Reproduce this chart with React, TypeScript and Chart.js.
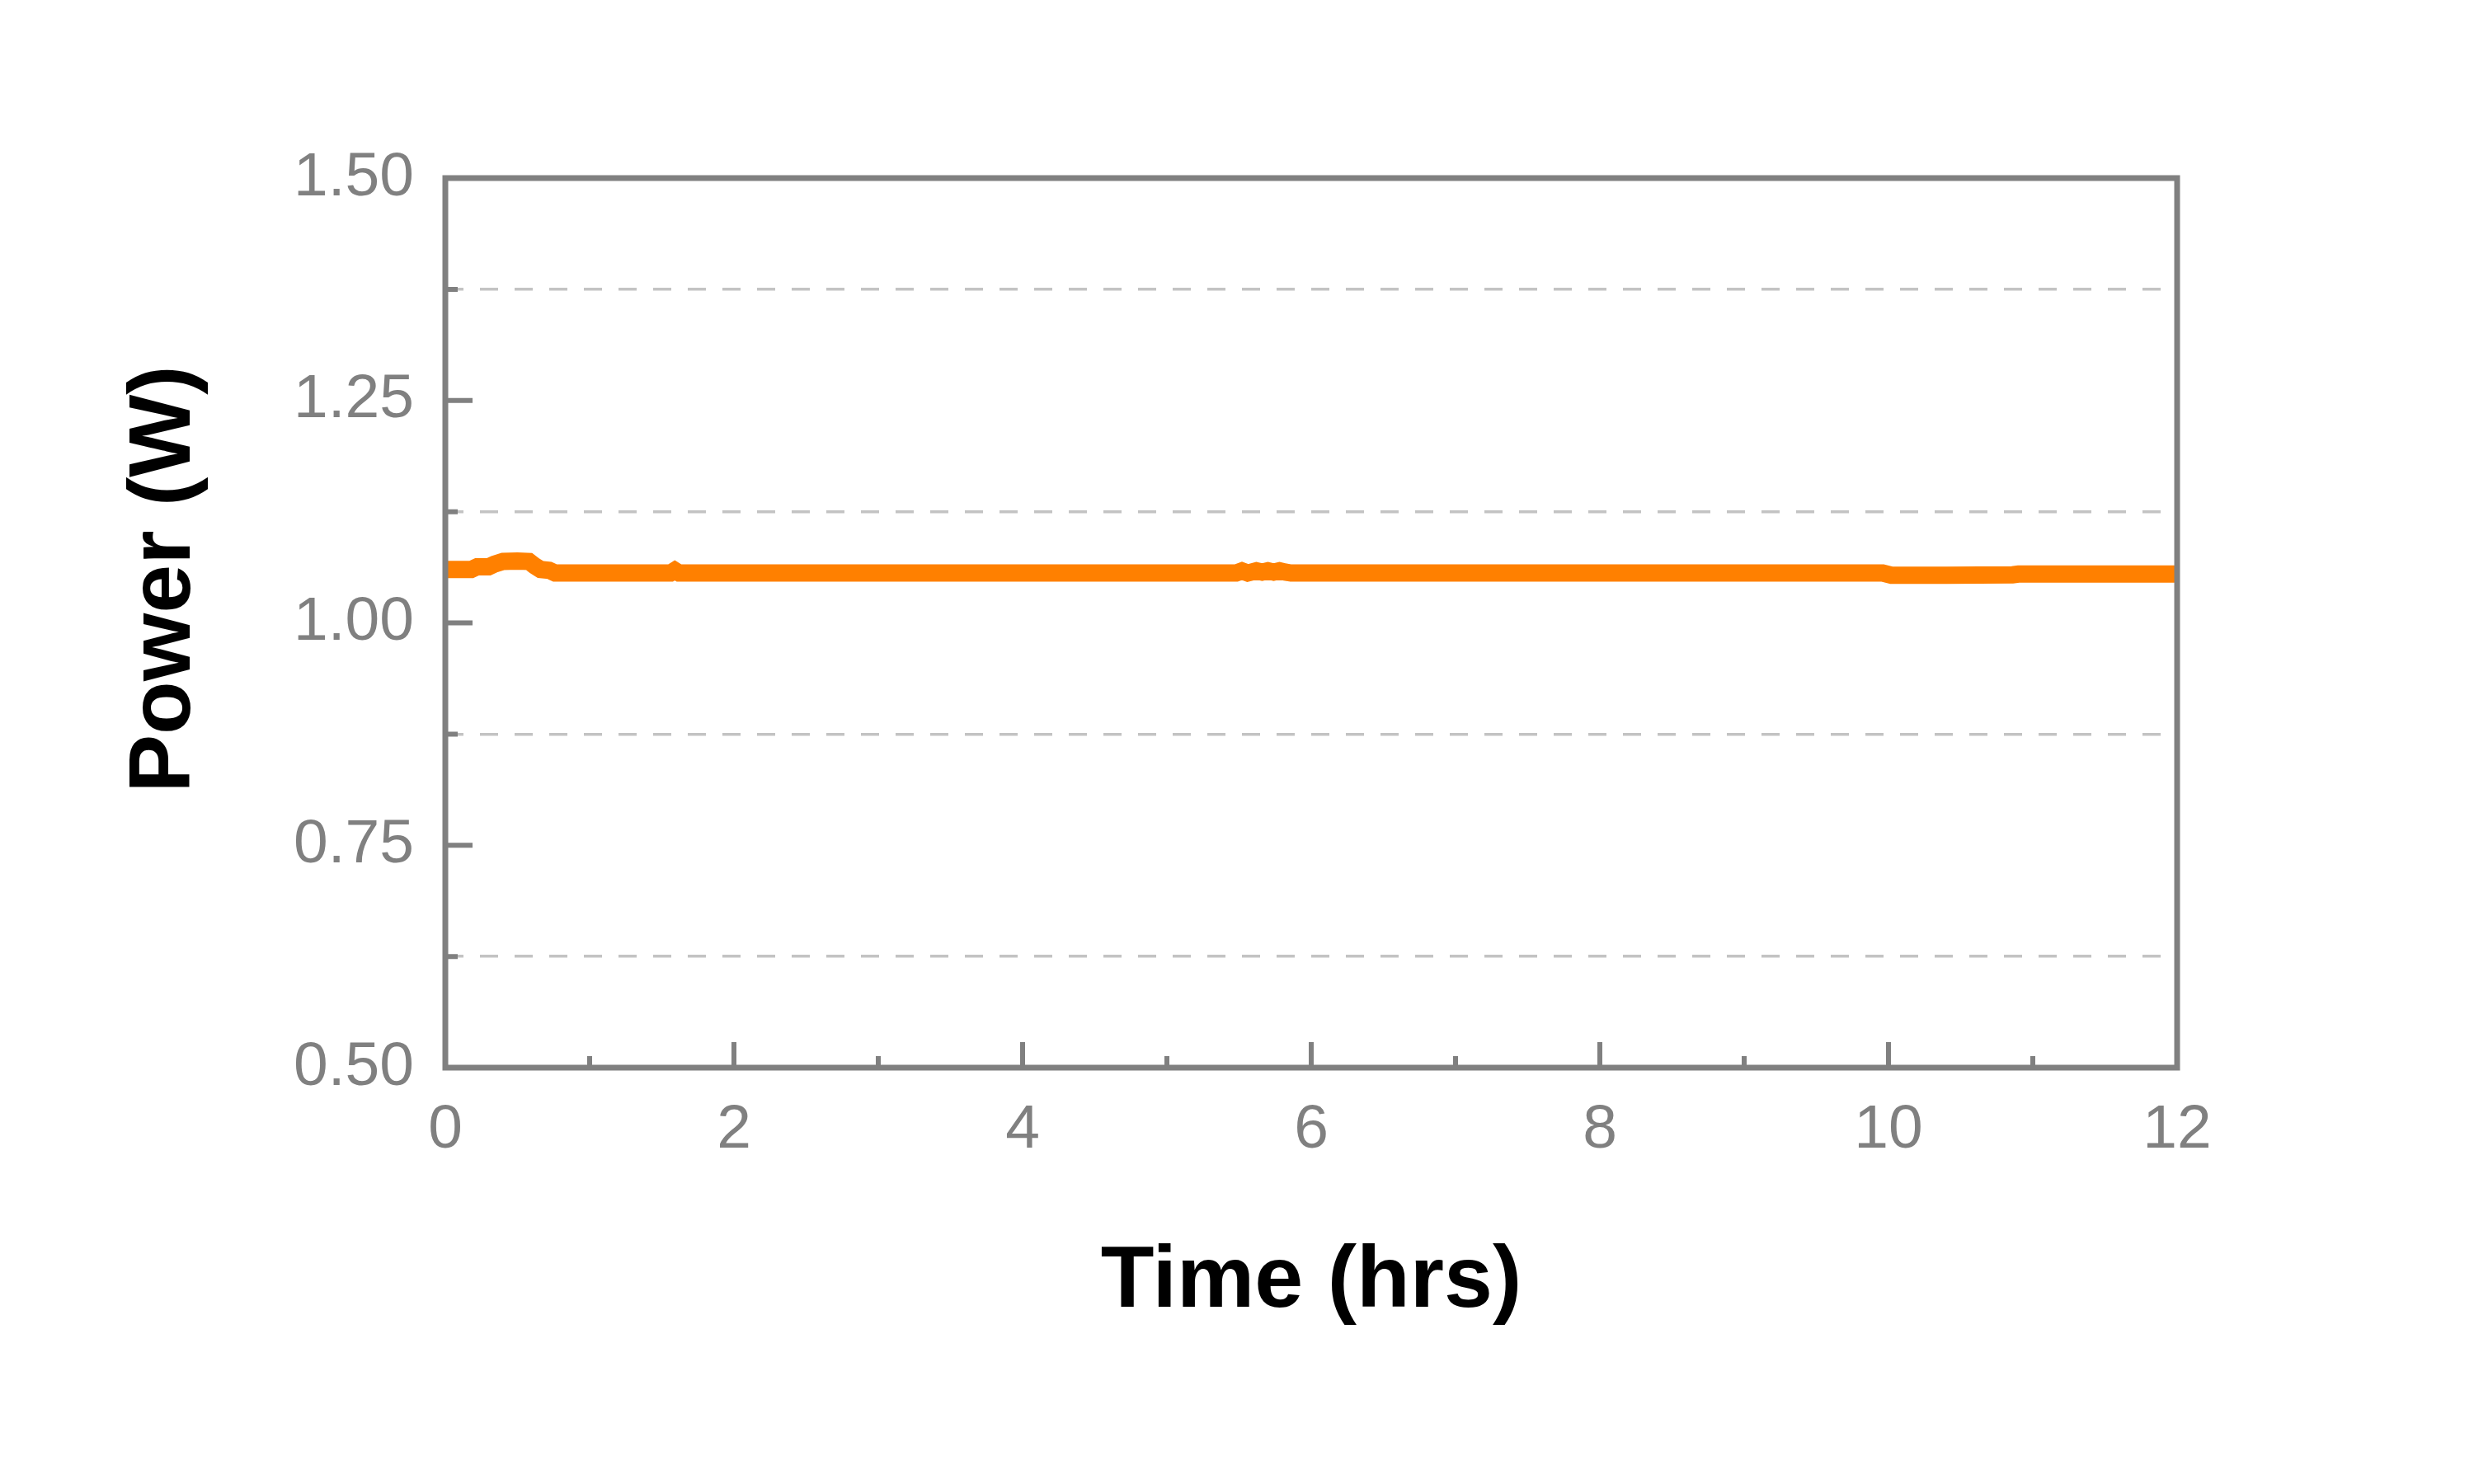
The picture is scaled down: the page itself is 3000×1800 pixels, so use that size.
import React, { useEffect, useRef } from 'react';
import { Chart, registerables } from 'chart.js';

Chart.register(...registerables);

// ---- data ----
const timeHrs = [
  0, 0.1, 0.18, 0.22, 0.3, 0.34, 0.4, 0.5, 0.58, 0.62, 0.66, 0.72, 0.76, 1.0, 1.5,
  1.56, 1.59, 1.62, 1.66, 2, 3, 4, 5, 5.48, 5.52, 5.56, 5.62, 5.66, 5.7, 5.74,
  5.78, 5.82, 5.86, 6, 7, 8, 9, 9.96, 10.02, 10.4, 10.86, 10.9, 11.3, 11.7, 12,
];
const powerW = [
  1.06, 1.06, 1.06, 1.063, 1.063, 1.066, 1.069, 1.0695, 1.069, 1.064, 1.06, 1.059, 1.056, 1.056, 1.056,
  1.056, 1.059, 1.056, 1.056, 1.056, 1.056, 1.056, 1.056, 1.056, 1.0585, 1.056, 1.0585, 1.057, 1.0585, 1.057,
  1.0585, 1.057, 1.056, 1.056, 1.056, 1.056, 1.056, 1.056, 1.0535, 1.0535, 1.054, 1.0548, 1.0548, 1.0548, 1.0548,
];
const yMajorTicks = [0.5, 0.75, 1.0, 1.25, 1.5];
const xTickLabels = [0, 2, 4, 6, 8, 10, 12];
const xTitle = 'Time (hrs)';
const yTitle = 'Power (W)';

const AXIS_COLOR = '#808080';
const GRID_COLOR = '#c3c3c3';
const LINE_COLOR = '#ff8000';
const FONT = '"Liberation Sans", Arial, sans-serif';

const isMajorY = (v: number) => yMajorTicks.some((t) => Math.abs(t - v) < 1e-6);
const isLabeledX = (v: number) => xTickLabels.some((t) => Math.abs(t - v) < 1e-6);

const framePlugin = {
  id: 'frameAndTitles',
  afterDatasetsDraw(chart: any) {
    const { ctx, chartArea, scales } = chart;
    const { left, right, top, bottom } = chartArea;
    ctx.save();
    ctx.strokeStyle = AXIS_COLOR;
    ctx.lineWidth = 6;
    ctx.lineCap = 'butt';
    ctx.beginPath();
    scales.y.ticks.forEach((t: any) => {
      const py = scales.y.getPixelForValue(t.value);
      const len = isMajorY(t.value) ? 33 : 15;
      ctx.moveTo(left, py);
      ctx.lineTo(left + len, py);
    });
    scales.x.ticks.forEach((t: any) => {
      const px = scales.x.getPixelForValue(t.value);
      const len = isLabeledX(t.value) ? 31 : 14;
      ctx.moveTo(px, bottom);
      ctx.lineTo(px, bottom - len);
    });
    ctx.stroke();
    ctx.lineWidth = 7;
    ctx.strokeRect(left, top, right - left, bottom - top);
    ctx.restore();
  },
  afterDraw(chart: any) {
    const { ctx, chartArea } = chart;
    const { left, right, top, bottom } = chartArea;
    ctx.save();
    ctx.fillStyle = '#000000';
    ctx.font = `bold 106px ${FONT}`;
    ctx.textAlign = 'center';
    ctx.textBaseline = 'alphabetic';
    ctx.fillText(xTitle, (left + right) / 2, bottom + 290);
    ctx.translate(left - 310, (top + bottom) / 2 - 53);
    ctx.rotate(-Math.PI / 2);
    ctx.fillText(yTitle, 0, 0);
    ctx.restore();
  },
};

export default function App() {
  const canvasRef = useRef<HTMLCanvasElement | null>(null);

  useEffect(() => {
    if (!canvasRef.current) return;
    const data = timeHrs.map((t, i) => ({ x: t, y: powerW[i] }));
    const chart = new Chart(canvasRef.current, {
      type: 'line',
      data: {
        datasets: [
          {
            data,
            borderColor: LINE_COLOR,
            backgroundColor: LINE_COLOR,
            borderWidth: 21,
            pointRadius: 0,
            tension: 0,
            borderCapStyle: 'butt',
            fill: false,
          },
        ],
      },
      options: {
        responsive: false,
        animation: false,
        devicePixelRatio: 1,
        layout: { padding: { left: 0, top: 216, right: 360, bottom: 0 } },
        plugins: {
          legend: { display: false },
          tooltip: { enabled: false },
        },
        scales: {
          x: {
            type: 'linear',
            min: 0,
            max: 12,
            afterFit: (s: any) => {
              s.height = 505;
            },
            grid: { display: false, drawTicks: false },
            border: { display: false },
            ticks: {
              stepSize: 1,
              autoSkip: false,
              maxRotation: 0,
              padding: 31,
              color: AXIS_COLOR,
              font: { family: FONT, size: 75 },
              callback: (v: any) => (isLabeledX(Number(v)) ? String(v) : ''),
            },
          },
          y: {
            type: 'linear',
            min: 0.5,
            max: 1.5,
            afterFit: (s: any) => {
              s.width = 540;
            },
            grid: {
              drawTicks: false,
              lineWidth: 3.5,
              color: (c: any) => (c.tick && !isMajorY(c.tick.value) ? GRID_COLOR : 'rgba(0,0,0,0)'),
            },
            border: { display: false, dash: [22, 20] },
            ticks: {
              stepSize: 0.125,
              autoSkip: false,
              padding: 38,
              color: AXIS_COLOR,
              font: { family: FONT, size: 75 },
              callback: (v: any) => (isMajorY(Number(v)) ? Number(v).toFixed(2) : ''),
            },
          },
        },
      },
      plugins: [framePlugin],
    } as any);
    return () => chart.destroy();
  }, []);

  return (
    <div style={{ position: 'absolute', left: 0, top: 0, width: 3000, height: 1800, background: '#ffffff' }}>
      <canvas ref={canvasRef} width={3000} height={1800} style={{ display: 'block' }} />
    </div>
  );
}
